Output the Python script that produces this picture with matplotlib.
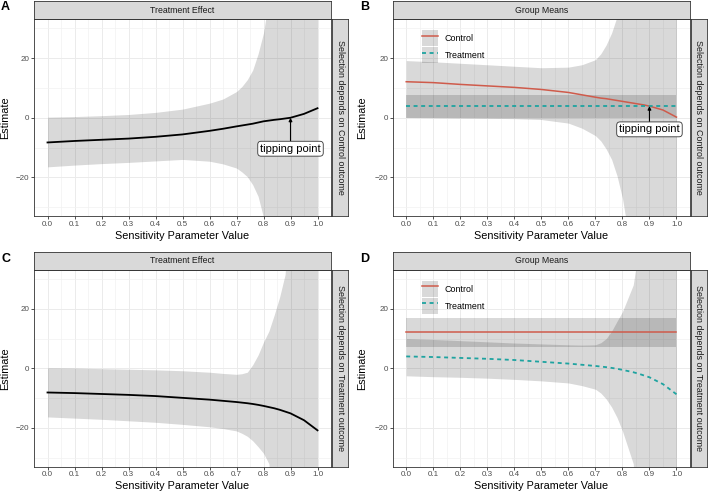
import numpy as np
import matplotlib

matplotlib.use("Agg")
import matplotlib.pyplot as plt
from matplotlib.patches import Patch
from matplotlib.lines import Line2D
from matplotlib.legend_handler import HandlerTuple

plt.rcParams["font.family"] = ["Liberation Sans", "DejaVu Sans"]

# sensitivity parameter grid (denser near the blow-up)
sens = [0.0, 0.1, 0.2, 0.3, 0.4, 0.5, 0.6, 0.65, 0.7, 0.72, 0.74, 0.76, 0.78,
        0.8, 0.82, 0.84, 0.86, 0.88, 0.9, 0.95, 1.0]

# A: treatment effect, selection depends on control outcome
te_a = [-8.3, -7.8, -7.4, -7.0, -6.4, -5.6, -4.4, -3.7, -2.9, -2.6, -2.3, -2.0, -1.6,
        -1.2, -0.95, -0.7, -0.5, -0.25, 0.0, 1.3, 3.2]
te_a_hi = [0.2, 0.4, 0.7, 1.1, 1.8, 2.9, 4.9, 6.3, 8.8, 10.5, 12.8, 16.0, 21.5,
           28.5, 40.0, 60, 60, 60, 60, 60, 60]
te_a_lo = [-16.5, -15.9, -15.4, -15.0, -14.5, -14.0, -14.6, -15.5, -16.9, -18.2, -19.8, -22.5, -26.4,
           -33.5, -50.0, -60, -60, -60, -60, -60, -60]

# B: group means, selection depends on control outcome
ctrl_b = [12.1, 11.8, 11.2, 10.7, 10.2, 9.5, 8.5, 7.7, 6.9, 6.6, 6.4, 6.1, 5.8,
          5.5, 5.2, 4.9, 4.6, 4.3, 3.9, 2.6, 0.2]
ctrl_b_hi = [19.2, 18.8, 18.3, 17.8, 17.3, 16.8, 17.0, 17.8, 19.5, 21.5, 24.5, 28.5, 34.0,
             45.0, 60, 60, 60, 60, 60, 60, 60]
ctrl_b_lo = [0.1, 0.0, -0.1, -0.2, -0.3, -0.6, -1.8, -3.5, -6.0, -7.8, -10.5, -14.0, -19.5,
             -27.0, -38.0, -60, -60, -60, -60, -60, -60]
trt_b = [3.9, 3.9, 3.9, 3.9, 3.9, 3.9, 3.9, 3.9, 3.9, 3.9, 3.9, 3.9, 3.9,
         3.9, 3.9, 3.9, 3.9, 3.9, 3.9, 3.9, 3.9]
trt_b_hi = [7.8, 7.8, 7.8, 7.8, 7.8, 7.8, 7.8, 7.8, 7.8, 7.8, 7.8, 7.8, 7.8,
            7.8, 7.8, 7.8, 7.8, 7.8, 7.8, 7.8, 7.8]
trt_b_lo = [0.0, 0.0, 0.0, 0.0, 0.0, 0.0, 0.0, 0.0, 0.0, 0.0, 0.0, 0.0, 0.0,
            0.0, 0.0, 0.0, 0.0, 0.0, 0.0, 0.0, 0.0]

# C: treatment effect, selection depends on treatment outcome
te_c = [-8.1, -8.3, -8.6, -8.9, -9.3, -9.9, -10.5, -10.9, -11.3, -11.5, -11.7, -11.95, -12.25,
        -12.6, -13.0, -13.4, -13.9, -14.5, -15.1, -17.4, -20.8]
te_c_hi = [0.2, 0.1, -0.1, -0.3, -0.5, -0.8, -1.3, -1.7, -2.0, -1.8, -1.3, 1.2, 4.5,
           8.8, 12.5, 18.0, 24.0, 31.5, 60, 60, 60]
te_c_lo = [-16.3, -16.7, -17.1, -17.6, -18.1, -18.8, -19.6, -20.2, -21.0, -21.8, -22.8, -24.3, -26.3,
           -28.5, -32.0, -60, -60, -60, -60, -60, -60]

# D: group means, selection depends on treatment outcome
ctrl_d = [12.1, 12.1, 12.1, 12.1, 12.1, 12.1, 12.1, 12.1, 12.1, 12.1, 12.1, 12.1, 12.1,
          12.1, 12.1, 12.1, 12.1, 12.1, 12.1, 12.1, 12.1]
ctrl_d_hi = [16.9, 16.9, 16.9, 16.9, 16.9, 16.9, 16.9, 16.9, 16.9, 16.9, 16.9, 16.9, 16.9,
             16.9, 16.9, 16.9, 16.9, 16.9, 16.9, 16.9, 16.9]
ctrl_d_lo = [7.2, 7.2, 7.2, 7.2, 7.2, 7.2, 7.2, 7.2, 7.2, 7.2, 7.2, 7.2, 7.2,
             7.2, 7.2, 7.2, 7.2, 7.2, 7.2, 7.2, 7.2]
trt_d = [4.0, 3.8, 3.5, 3.2, 2.8, 2.2, 1.6, 1.2, 0.8, 0.6, 0.4, 0.15, -0.15,
         -0.5, -0.9, -1.3, -1.8, -2.4, -3.0, -5.3, -8.7]
trt_d_hi = [10.0, 9.7, 9.3, 8.9, 8.5, 8.2, 7.9, 7.8, 7.9, 8.6, 10.0, 12.5, 15.8,
            19.0, 23.5, 28.0, 40.0, 60, 60, 60, 60]
trt_d_lo = [-2.5, -2.8, -3.0, -3.3, -3.7, -4.2, -4.9, -5.8, -7.0, -8.3, -10.3, -13.0, -16.5,
            -21.0, -26.5, -32.0, -60, -60, -60, -60, -60]

x_ticks = [0.0, 0.1, 0.2, 0.3, 0.4, 0.5, 0.6, 0.7, 0.8, 0.9, 1.0]
y_ticks = [-20, 0, 20]

RED = "#CF5B4B"
TEAL = "#1EA3A0"
BAND = (0, 0, 0, 0.15)
STRIP = "#D9D9D9"
DARK = "#333333"
W, H = 709, 494

fig = plt.figure(figsize=(W / 100, H / 100), dpi=100)
fig.patch.set_facecolor("white")


def px_axes(l, t, r, b):
    return fig.add_axes([l / W, 1 - b / H, (r - l) / W, (b - t) / H])


def style_panel(ax, top_label, side_label, l, t, r, b, ylab_x):
    ax.set_xlim(-0.05, 1.05)
    ax.set_ylim(-33, 33)
    ax.set_xticks(x_ticks)
    ax.set_xticklabels([f"{v:.1f}" for v in x_ticks])
    ax.set_xticks(np.arange(-0.05, 1.06, 0.1), minor=True)
    ax.set_yticks(y_ticks)
    ax.set_yticklabels(["\u221220", "0", "20"])
    ax.set_yticks([-30, -10, 10, 30], minor=True)
    ax.grid(True, which="major", color="#EBEBEB", lw=0.7)
    ax.grid(True, which="minor", color="#F2F2F2", lw=0.5)
    ax.set_axisbelow(True)
    ax.tick_params(which="major", length=2.2, width=0.6, color=DARK, pad=1.2,
                   labelsize=5.8, labelcolor="#4D4D4D")
    ax.tick_params(which="minor", length=0)
    for sp in ax.spines.values():
        sp.set_color(DARK)
        sp.set_linewidth(0.6)
    ax.set_xlabel("Sensitivity Parameter Value", fontsize=7.8, labelpad=2.0)
    ax.set_ylabel("Estimate", fontsize=7.8)
    ax.yaxis.set_label_coords(ylab_x, 0.5)

    st = px_axes(l, t - 18.5, r, t)
    st.set_facecolor(STRIP)
    st.set_xticks([])
    st.set_yticks([])
    for sp in st.spines.values():
        sp.set_color(DARK)
        sp.set_linewidth(0.6)
    st.text(0.5, 0.5, top_label, ha="center", va="center", fontsize=6.3, color="#1A1A1A",
            transform=st.transAxes)

    ss = px_axes(r + 1, t, r + 17, b)
    ss.set_facecolor(STRIP)
    ss.set_xticks([])
    ss.set_yticks([])
    for sp in ss.spines.values():
        sp.set_color(DARK)
        sp.set_linewidth(0.6)
    ss.text(0.5, 0.5, side_label, ha="center", va="center", fontsize=6.4, color="#1A1A1A",
            rotation=-90, transform=ss.transAxes)


def tipping(ax, x, y, ty):
    ax.annotate("tipping point", xy=(x, y), xytext=(x, ty), ha="center", va="center",
                fontsize=8, color="black",
                bbox=dict(boxstyle="round,pad=0.22,rounding_size=0.3", fc="white", ec=DARK, lw=0.6),
                arrowprops=dict(arrowstyle="-|>", color="black", lw=0.8, mutation_scale=5,
                                shrinkA=0, shrinkB=0))


def group_legend(ax):
    key = Patch(facecolor=BAND, edgecolor="none")
    h1 = (key, Line2D([], [], color=RED, lw=1.1))
    h2 = (key, Line2D([], [], color=TEAL, lw=1.3, ls=(0, (2.2, 2.0))))
    ax.legend([h1, h2], ["Control", "Treatment"],
              handler_map={tuple: HandlerTuple(ndivide=1, pad=0)},
              loc="upper left", bbox_to_anchor=(0.0996, 0.945), frameon=False, borderpad=0,
              borderaxespad=0, fontsize=6.4, handlelength=1.75, handleheight=2.4,
              labelspacing=0.12, handletextpad=0.75)


geo_a = (34, 19.5, 331, 216)
geo_b = (392.7, 19.5, 690, 216)
geo_c = (34, 270, 331, 466.7)
geo_d = (392.7, 270, 690, 466.7)

# Panel A
ax = px_axes(*geo_a)
ax.fill_between(sens, te_a_lo, te_a_hi, color=BAND, lw=0)
ax.plot(sens, te_a, color="black", lw=1.3)
tipping(ax, 0.9, 0.0, -10.4)
style_panel(ax, "Treatment Effect", "Selection depends on Control outcome", *geo_a, -0.081)

# Panel B
ax = px_axes(*geo_b)
ax.fill_between(sens, ctrl_b_lo, ctrl_b_hi, color=BAND, lw=0)
ax.fill_between(sens, trt_b_lo, trt_b_hi, color=BAND, lw=0)
ax.plot(sens, ctrl_b, color=RED, lw=1.1)
ax.plot(sens, trt_b, color=TEAL, lw=1.3, ls=(0, (2.2, 2.0)))
tipping(ax, 0.9, 3.9, -3.9)
group_legend(ax)
style_panel(ax, "Group Means", "Selection depends on Control outcome", *geo_b, -0.086)

# Panel C
ax = px_axes(*geo_c)
ax.fill_between(sens, te_c_lo, te_c_hi, color=BAND, lw=0)
ax.plot(sens, te_c, color="black", lw=1.3)
style_panel(ax, "Treatment Effect", "Selection depends on Treatment outcome", *geo_c, -0.081)

# Panel D
ax = px_axes(*geo_d)
ax.fill_between(sens, ctrl_d_lo, ctrl_d_hi, color=BAND, lw=0)
ax.fill_between(sens, trt_d_lo, trt_d_hi, color=BAND, lw=0)
ax.plot(sens, ctrl_d, color=RED, lw=1.1)
ax.plot(sens, trt_d, color=TEAL, lw=1.3, ls=(0, (2.2, 2.0)))
group_legend(ax)
style_panel(ax, "Group Means", "Selection depends on Treatment outcome", *geo_d, -0.086)

# panel letters
for lab, x, y in [("A", 5.5, 7.5), ("B", 365, 7.5), ("C", 5.5, 259), ("D", 365, 259)]:
    fig.text(x / W, 1 - y / H, lab, ha="center", va="center", fontsize=9, fontweight="bold")

fig.savefig("out.png", dpi=100, facecolor="white")
